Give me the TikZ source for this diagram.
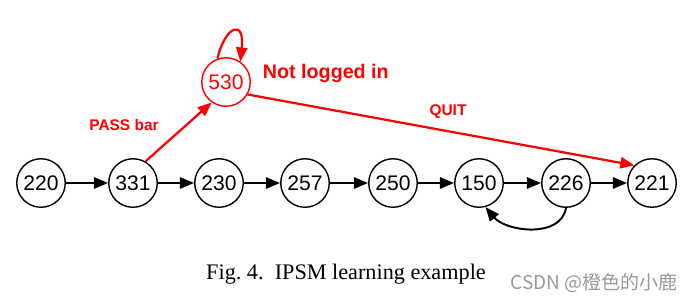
\documentclass[tikz,border=0pt]{standalone}
\usepackage{fontspec}
\setmainfont{Liberation Serif}
\setsansfont{Liberation Sans}
\newfontfamily\cjk{Noto Sans CJK SC}
\usepackage{xcolor}
\usetikzlibrary{arrows.meta,positioning}

\begin{document}
\begin{tikzpicture}[
    x=0.025cm, y=-0.025cm,
    font=\sffamily\fontsize{15}{17}\selectfont,
    state/.style={circle, draw=black, line width=1pt, minimum size=34.5pt, inner sep=0pt},
    redstate/.style={state, draw=red, text=red},
    arrow/.style={-{Triangle[length=10pt,width=8pt]}, line width=1.4pt},
    redarrow/.style={-{Triangle[length=10pt,width=8pt]}, line width=1.6pt, red},
    lbl/.style={font=\sffamily\bfseries\fontsize{11}{13}\selectfont, text=red},
]
\useasboundingbox (0,0) rectangle (696,303);

\node[state] (n220) at (41,183)  {220};
\node[state] (n331) at (133,183) {331};
\node[state] (n230) at (219,183) {230};
\node[state] (n257) at (305,183) {257};
\node[state] (n250) at (393,183) {250};
\node[state] (n150) at (479,183) {150};
\node[state] (n226) at (566,183) {226};
\node[state] (n221) at (652,183) {221};
\node[redstate] (n530) at (226,82) {530};

\draw[arrow] (n220) -- (n331);
\draw[arrow] (n331) -- (n230);
\draw[arrow] (n230) -- (n257);
\draw[arrow] (n257) -- (n250);
\draw[arrow] (n250) -- (n150);
\draw[arrow] (n150) -- (n226);
\draw[arrow] (n226) -- (n221);
\draw[arrow] (n226.south) to[out=-100, in=-50] (n150.-75);

% red paths
\draw[redarrow] (n331.60) -- (n530.235);
\draw[redarrow] (n530.110) .. controls (225,26) and (245,18) .. (n530.55);
\draw[redarrow] (n530.-30) -- (n221.135);

\node[lbl, anchor=west] (notlog) at (258,73) {\fontsize{14}{16}\selectfont Not logged in};
\node[lbl] (pass) at (124,125) {PASS bar};
\node[lbl] (quit) at (448,112) {QUIT};

\node[font=\rmfamily\fontsize{15.8}{18}\selectfont] (cap) at (346,274) {Fig.~4.\ \ IPSM learning example};
\node[font=\cjk\fontsize{13.5}{16}\selectfont, text=black!40] (mark) at (594,283) {CSDN @橙色的小鹿};
\end{tikzpicture}
\end{document}
